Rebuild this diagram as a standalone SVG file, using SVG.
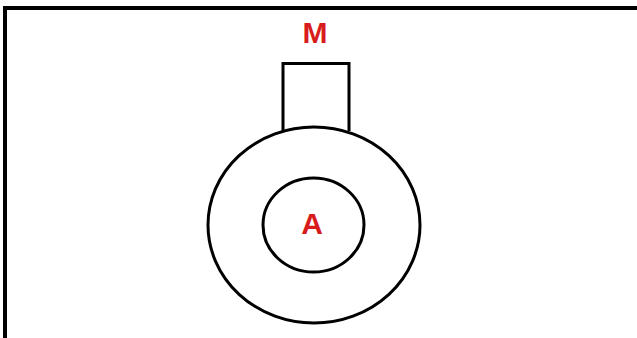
<svg xmlns="http://www.w3.org/2000/svg" width="637" height="338" viewBox="0 0 637 338">
<style>
.ln{fill:none;stroke:#000;stroke-width:3}
.lbl{font-family:"Liberation Sans",Arial,sans-serif;font-weight:bold;font-size:30px;fill:#d81c1c;text-anchor:middle}
</style>
<rect width="637" height="338" fill="#fff"/>
<g id="frame">
<path d="M5 338 V8 H637" fill="none" stroke="#000" stroke-width="4"/>
</g>
<g id="motor">
<path class="ln" d="M283 131 V63.5 H349 V131"/>
<text class="lbl" x="315" y="43">M</text>
</g>
<g id="outer">
<ellipse class="ln" cx="314" cy="225" rx="106" ry="98"/>
</g>
<g id="inner">
<ellipse class="ln" cx="313.5" cy="225" rx="50.5" ry="47"/>
<text class="lbl" x="312" y="234">A</text>
</g>
<g id="connectors"></g>
</svg>
